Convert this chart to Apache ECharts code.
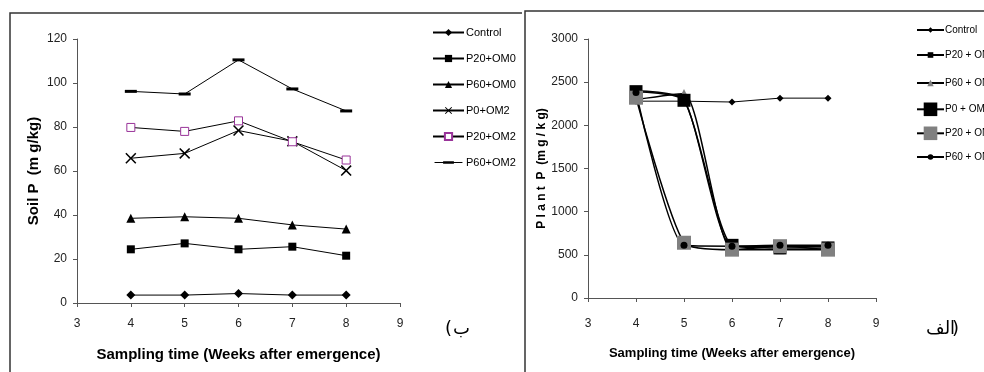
<!DOCTYPE html>
<html>
<head>
<meta charset="utf-8">
<script src="https://cdn.jsdelivr.net/npm/echarts@6/dist/echarts.min.js"></script>
<style>
  html, body { margin: 0; padding: 0; background: #fff; }
  #main { width: 984px; height: 372px; }
</style>
</head>
<body>
<div id="main"></div>
<script>
// weeks after emergence
const weeks = [4, 5, 6, 7, 8];

// panel ب : soil P (mg/kg)
const soilNames = ['Control', 'P20+OM0', 'P60+OM0', 'P0+OM2', 'P20+OM2', 'P60+OM2'];
const soilControl = [3.6, 3.6, 4.3, 3.6, 3.6];
const soilP20OM0 = [24.4, 27.1, 24.4, 25.6, 21.5];
const soilP60OM0 = [38.5, 39.2, 38.5, 35.5, 33.6];
const soilP0OM2 = [65.8, 68.0, 78.4, 73.5, 60.2];
const soilP20OM2 = [79.8, 78.0, 82.8, 73.3, 65.0];
const soilP60OM2 = [96.2, 95.0, 110.5, 97.3, 87.3];

// panel الف : plant P (mg/kg)
const plantNames = ['Control ', 'P20 + OM0', 'P60 + OM0', 'P0 + OM2', 'P20 + OM2', 'P60 + OM2'];
const plantControl = [2280, 2280, 2270, 2315, 2315];
const plantP20OM0 = [2400, 2300, 600, 600, 600];
const plantP60OM0 = [2300, 2370, 560, 560, 560];
const plantP0OM2 = [2390, 2290, 610, 580, 580];
const plantP20OM2 = [2320, 640, 560, 600, 560];
const plantP60OM2 = [2380, 610, 600, 610, 610];

const pts = vals => weeks.map((w, i) => [w, vals[i]]);

const xSymbol = 'path://M0,1L1,0L5,4L9,0L10,1L6,5L10,9L9,10L5,6L1,10L0,9L4,5Z';
// legend icon for the dash marker: thin line + short thick dash, box 31x10
const dashIcon = 'path://M0,0L0.01,0L0,0.01Z M31,10L30.99,10L31,9.99Z M0,4.5L31,4.5L31,5.5L0,5.5Z M9.5,3.5L21.5,3.5L21.5,6.5L9.5,6.5Z';
const font = 'Liberation Sans, Arial, sans-serif';
const axisCol = '#555';

function xAxis(gridIndex, gap, nameSize, labelMargin) {
  return {
    gridIndex: gridIndex, type: 'value', min: 3, max: 9, interval: 1,
    name: 'Sampling time (Weeks after emergence)', nameLocation: 'middle', nameGap: gap,
    nameTextStyle: { fontFamily: font, fontWeight: 'bold', fontSize: nameSize, color: '#000' },
    axisLine: { show: true, lineStyle: { color: axisCol, width: 1 } },
    axisTick: { show: true, inside: false, length: 4, lineStyle: { color: axisCol } },
    axisLabel: { fontFamily: font, fontSize: 12, color: '#222', margin: labelMargin },
    splitLine: { show: false }
  };
}

function yAxis(gridIndex, max, interval, name, gap, nameSize) {
  return {
    gridIndex: gridIndex, type: 'value', min: 0, max: max, interval: interval,
    name: name, nameLocation: 'middle', nameGap: gap, nameRotate: 90,
    nameTextStyle: { fontFamily: font, fontWeight: 'bold', fontSize: nameSize, color: '#000' },
    axisLine: { show: true, lineStyle: { color: axisCol, width: 1 } },
    axisTick: { show: true, inside: false, length: 4, lineStyle: { color: axisCol } },
    axisLabel: { fontFamily: font, fontSize: 12, color: '#222', margin: 10, formatter: v => String(v) },
    splitLine: { show: false }
  };
}

function line(name, data, idx, symbol, size, fill, border, smooth, width) {
  return {
    name: name, type: 'line', xAxisIndex: idx, yAxisIndex: idx,
    data: pts(data), smooth: smooth || false,
    symbol: symbol, symbolSize: size, showSymbol: true,
    lineStyle: { color: '#000', width: width || 1 },
    itemStyle: { color: fill, borderColor: border || fill, borderWidth: border ? 1 : 0 },
    emphasis: { disabled: true }, z: 2
  };
}

const sm = 0.2;
const series = [
  line(soilNames[0], soilControl, 0, 'diamond', 9, '#000'),
  line(soilNames[1], soilP20OM0, 0, 'rect', 8, '#000'),
  line(soilNames[2], soilP60OM0, 0, 'triangle', 9, '#000'),
  line(soilNames[3], soilP0OM2, 0, xSymbol, 11, '#000'),
  line(soilNames[4], soilP20OM2, 0, 'rect', 8, '#fff', '#993399'),
  line(soilNames[5], soilP60OM2, 0, 'rect', [12, 3], '#000'),

  line(plantNames[0], plantControl, 1, 'diamond', 7, '#000'),
  line(plantNames[1], plantP20OM0, 1, 'rect', 7, '#000', null, sm, 1.5),
  line(plantNames[2], plantP60OM0, 1, 'triangle', 9, '#808080', null, sm, 1.5),
  line(plantNames[3], plantP0OM2, 1, 'rect', 13, '#000', null, sm, 1.5),
  line(plantNames[4], plantP20OM2, 1, 'rect', 14, '#808080', null, sm, 1.5),
  line(plantNames[5], plantP60OM2, 1, 'circle', 7, '#000', null, sm, 1.5)
];

// right legend: one row per entry so small and big markers keep their sizes
const plantRowY = [31, 56, 84, 111, 135, 158];
const plantIconH = [7, 7, 8, 17, 17, 7];
const plantLegends = plantNames.map((n, i) => ({
  data: [n], orient: 'vertical', left: 916, top: plantRowY[i] - Math.max(plantIconH[i], 12) / 2,
  padding: 0, itemWidth: 27, itemHeight: plantIconH[i],
  textStyle: { fontFamily: font, fontSize: 10, color: '#000', padding: [0, 0, 0, -4] },
  selectedMode: false
}));

const arFont = '18px "DejaVu Sans"';

const chart = echarts.init(document.getElementById('main'));
chart.setOption({
  backgroundColor: '#fff',
  animation: false,
  grid: [
    { left: 77, top: 39, width: 323, height: 264 },
    { left: 588, top: 39, width: 288, height: 259 }
  ],
  xAxis: [xAxis(0, 44, 15, 15), xAxis(1, 49, 13, 20)],
  yAxis: [
    yAxis(0, 120, 20, 'Soil P  (m g/kg)', 36, 15),
    yAxis(1, 3000, 500, 'P l a n t  P  (m g / k g)', 35, 12)
  ],
  legend: [
    {
      data: soilNames.map(n => n === 'P60+OM2' ? { name: n, icon: dashIcon } : n),
      orient: 'vertical', left: 432, top: 27, padding: 0,
      itemWidth: 31, itemHeight: 9, itemGap: 15,
      textStyle: { fontFamily: font, fontSize: 11, color: '#000', padding: [0, 0, 0, -3] },
      selectedMode: false
    }
  ].concat(plantLegends),
  graphic: [
    { type: 'polyline', shape: { points: [[10, 372], [10, 13], [522, 13]] }, style: { stroke: '#333', lineWidth: 1.5, fill: null } },
    { type: 'polyline', shape: { points: [[525, 372], [525, 11], [984, 11]] }, style: { stroke: '#333', lineWidth: 1.5, fill: null } },
    // panel letters, paren drawn apart so the bidi order can not flip it
    { type: 'text', left: 445, top: 320, style: { text: '(', font: arFont, fill: '#000' } },
    { type: 'text', left: 453, top: 320, style: { text: 'ب', font: arFont, fill: '#000' } },
    { type: 'text', left: 926, top: 320, style: { text: 'الف', font: arFont, fill: '#000' } },
    { type: 'text', left: 952, top: 320, style: { text: ')', font: arFont, fill: '#000' } }
  ],
  series: series
});
</script>
</body>
</html>
